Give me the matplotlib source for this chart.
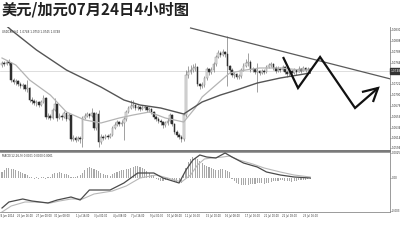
import matplotlib
matplotlib.use("Agg")
import matplotlib.pyplot as plt
import numpy as np

# ---------------- data: USD/CAD H4 ----------------
first_open = 1.0760
close = [1.0764, 1.0762, 1.0766, 1.0764, 1.0730, 1.0726, 1.0728, 1.0722, 1.0718, 1.0720,
         1.0712, 1.0714, 1.0690, 1.0688, 1.0684, 1.0686, 1.0680, 1.0686, 1.0694, 1.0656,
         1.0658, 1.0654, 1.0670, 1.0682, 1.0654, 1.0658, 1.0656, 1.0664, 1.0652, 1.0660,
         1.0612, 1.0614, 1.0610, 1.0614, 1.0612, 1.0654, 1.0658, 1.0662, 1.0658, 1.0664,
         1.0634, 1.0662, 1.0606, 1.0616, 1.0614, 1.0618, 1.0616, 1.0620, 1.0634, 1.0640,
         1.0646, 1.0642, 1.0644, 1.0652, 1.0666, 1.0674, 1.0678, 1.0680, 1.0674, 1.0676,
         1.0672, 1.0674, 1.0676, 1.0670, 1.0672, 1.0666, 1.0656, 1.0652, 1.0648, 1.0646,
         1.0640, 1.0644, 1.0648, 1.0660, 1.0642, 1.0626, 1.0620, 1.0616, 1.0612, 1.0660,
         1.0740, 1.0746, 1.0750, 1.0754, 1.0756, 1.0722, 1.0718, 1.0720, 1.0734, 1.0752,
         1.0746, 1.0750, 1.0762, 1.0776, 1.0784, 1.0780, 1.0786, 1.0782, 1.0758, 1.0750,
         1.0740, 1.0742, 1.0736, 1.0738, 1.0750, 1.0758, 1.0764, 1.0766, 1.0750, 1.0752,
         1.0746, 1.0748, 1.0744, 1.0748, 1.0746, 1.0756, 1.0760, 1.0762, 1.0754, 1.0748,
         1.0752, 1.0750, 1.0756, 1.0746, 1.0742, 1.0748, 1.0744, 1.0750, 1.0746, 1.0752,
         1.0748, 1.0754, 1.0750, 1.0752, 1.0748]
high = [1.0768, 1.0768, 1.0770, 1.0772, 1.0766, 1.0734, 1.0732, 1.0730, 1.0726, 1.0724,
        1.0722, 1.0730, 1.0716, 1.0696, 1.0692, 1.0690, 1.0688, 1.0690, 1.0700, 1.0696,
        1.0664, 1.0662, 1.0674, 1.0694, 1.0684, 1.0664, 1.0662, 1.0668, 1.0666, 1.0664,
        1.0662, 1.0620, 1.0618, 1.0618, 1.0618, 1.0658, 1.0664, 1.0666, 1.0664, 1.0674,
        1.0666, 1.0666, 1.0670, 1.0622, 1.0620, 1.0622, 1.0622, 1.0624, 1.0638, 1.0646,
        1.0650, 1.0648, 1.0650, 1.0656, 1.0670, 1.0678, 1.0690, 1.0690, 1.0682, 1.0680,
        1.0678, 1.0680, 1.0680, 1.0678, 1.0676, 1.0674, 1.0668, 1.0660, 1.0656, 1.0652,
        1.0648, 1.0648, 1.0654, 1.0664, 1.0662, 1.0644, 1.0630, 1.0624, 1.0620, 1.0664,
        1.0750, 1.0758, 1.0760, 1.0762, 1.0764, 1.0758, 1.0724, 1.0726, 1.0738, 1.0756,
        1.0754, 1.0756, 1.0766, 1.0780, 1.0790, 1.0788, 1.0792, 1.0788, 1.0818, 1.0760,
        1.0754, 1.0746, 1.0744, 1.0742, 1.0754, 1.0764, 1.0772, 1.0784, 1.0770, 1.0756,
        1.0754, 1.0764, 1.0750, 1.0752, 1.0752, 1.0760, 1.0764, 1.0766, 1.0764, 1.0758,
        1.0758, 1.0756, 1.0760, 1.0758, 1.0750, 1.0752, 1.0750, 1.0754, 1.0752, 1.0758,
        1.0754, 1.0758, 1.0756, 1.0756, 1.0754]
low = [1.0756, 1.0758, 1.0760, 1.0760, 1.0726, 1.0722, 1.0720, 1.0718, 1.0714, 1.0712,
       1.0708, 1.0706, 1.0686, 1.0682, 1.0680, 1.0678, 1.0676, 1.0678, 1.0684, 1.0652,
       1.0652, 1.0650, 1.0652, 1.0668, 1.0648, 1.0652, 1.0650, 1.0654, 1.0648, 1.0650,
       1.0608, 1.0608, 1.0606, 1.0608, 1.0604, 1.0596, 1.0652, 1.0656, 1.0654, 1.0656,
       1.0630, 1.0630, 1.0596, 1.0602, 1.0610, 1.0612, 1.0612, 1.0614, 1.0618, 1.0632,
       1.0638, 1.0638, 1.0638, 1.0610, 1.0648, 1.0664, 1.0672, 1.0674, 1.0670, 1.0670,
       1.0668, 1.0670, 1.0670, 1.0666, 1.0666, 1.0662, 1.0652, 1.0648, 1.0644, 1.0640,
       1.0634, 1.0636, 1.0640, 1.0644, 1.0638, 1.0622, 1.0616, 1.0612, 1.0606, 1.0608,
       1.0656, 1.0734, 1.0742, 1.0746, 1.0748, 1.0718, 1.0712, 1.0714, 1.0716, 1.0730,
       1.0740, 1.0742, 1.0746, 1.0758, 1.0774, 1.0776, 1.0778, 1.0776, 1.0718, 1.0744,
       1.0736, 1.0734, 1.0732, 1.0732, 1.0734, 1.0748, 1.0756, 1.0758, 1.0746, 1.0746,
       1.0742, 1.0706, 1.0740, 1.0742, 1.0742, 1.0744, 1.0754, 1.0756, 1.0750, 1.0744,
       1.0746, 1.0746, 1.0748, 1.0742, 1.0736, 1.0738, 1.0740, 1.0742, 1.0740, 1.0746,
       1.0744, 1.0748, 1.0746, 1.0748, 1.0744]

# moving averages (bar index, value)
ma_slow_bars = [0, 4, 15, 28, 43, 53, 60, 69, 79, 87, 95, 102, 111, 121, 134]
ma_slow_vals = [1.0846, 1.0830, 1.0790, 1.0750, 1.0716, 1.0690, 1.0680, 1.0674, 1.0662,
                1.0686, 1.0700, 1.0710, 1.0724, 1.0734, 1.0744]
ma_fast_bars = [0, 6, 12, 21, 28, 36, 43, 51, 57, 64, 71, 79, 84, 87, 93, 99, 106, 112,
                121, 130, 134]
ma_fast_vals = [1.0774, 1.0760, 1.0730, 1.0700, 1.0666, 1.0650, 1.0644, 1.0654, 1.0660,
                1.0666, 1.0654, 1.0646, 1.0674, 1.0696, 1.0720, 1.0744, 1.0750, 1.0754,
                1.0754, 1.0750, 1.0750]

# MACD histogram and its two lines
macd_hist = [0.0006, 0.0008, 0.0010, 0.0010, 0.0009, 0.0009, 0.0008, 0.0007, 0.0006, 0.0005,
             0.0004, 0.0003, 0.0001, 0.0001, -0.0001, 0.0001, -0.0001, 0.0001, 0.0001, -0.0001,
             0.0001, 0.0001, 0.0004, 0.0005, 0.0005, 0.0006, 0.0005, 0.0004, 0.0004, 0.0003,
             0.0001, 0.0001, 0.0001, 0.0002, 0.0003, 0.0005, 0.0008, 0.0010, 0.0011, 0.0010,
             0.0009, 0.0008, 0.0007, 0.0005, 0.0004, 0.0003, 0.0003, 0.0002, 0.0004, 0.0005,
             0.0006, 0.0007, 0.0008, 0.0008, 0.0009, 0.0009, 0.0010, 0.0011, 0.0012, 0.0012,
             0.0011, 0.0010, 0.0009, 0.0007, 0.0005, 0.0003, 0.0002, -0.0001, -0.0002, -0.0003,
             -0.0003, -0.0002, -0.0002, -0.0001, -0.0002, -0.0003, -0.0004, -0.0005, -0.0005, 0.0003,
             0.0010, 0.0016, 0.0019, 0.0021, 0.0020, 0.0019, 0.0017, 0.0015, 0.0013, 0.0012,
             0.0011, 0.0010, 0.0009, 0.0008, 0.0008, 0.0009, 0.0009, 0.0008, 0.0007, 0.0006,
             -0.0001, -0.0003, -0.0005, -0.0006, -0.0007, -0.0007, -0.0007, -0.0007, -0.0006, -0.0006,
             -0.0006, -0.0005, -0.0005, -0.0005, -0.0006, -0.0005, -0.0005, -0.0004, -0.0003, -0.0003,
             -0.0003, -0.0002, -0.0002, -0.0003, -0.0003, -0.0003, -0.0004, -0.0003, -0.0003, -0.0002,
             -0.0002, -0.0002, -0.0002, -0.0001, -0.0001]
macd_main_bars = [0, 3, 9, 13, 20, 24, 30, 34, 38, 47, 53, 59, 66, 70, 77, 80, 83, 86, 89,
                  93, 97, 100, 105, 111, 115, 121, 127, 134]
macd_main_vals = [-0.0030, -0.0024, -0.0021, -0.0023, -0.0025, -0.0022, -0.0019, -0.0022,
                  -0.0012, -0.0012, -0.0005, 0.0005, 0.0005, 0.0000, -0.0005, 0.0008, 0.0018,
                  0.0023, 0.0021, 0.0020, 0.0025, 0.0021, 0.0015, 0.0011, 0.0006, 0.0003,
                  0.0001, 0.0000]
macd_signal_bars = [0, 4, 10, 14, 21, 25, 30, 35, 40, 48, 54, 60, 67, 72, 78, 82, 85, 88,
                    91, 96, 99, 103, 109, 114, 121, 127, 134]
macd_signal_vals = [-0.0034, -0.0028, -0.0024, -0.0024, -0.0025, -0.0023, -0.0021, -0.0021,
                    -0.0016, -0.0013, -0.0008, 0.0000, 0.0003, 0.0000, -0.0004, 0.0003, 0.0013,
                    0.0019, 0.0020, 0.0021, 0.0022, 0.0018, 0.0014, 0.0010, 0.0006, 0.0003,
                    0.0001]

# descending trend line and the projected zig-zag path (bar, price)
trend_bars = [82, 169]
trend_vals = [1.0834, 1.0732]
path_bars = [122.2, 128.7, 138.3, 153.5, 163.5]
path_vals = [1.0776, 1.0714, 1.0776, 1.0674, 1.0714]
head_bars = [156.5, 163.5, 161.3]
head_vals = [1.0706, 1.0714, 1.0686]

price_labels = ["1.0830", "1.0808", "1.0786", "1.0764", "1.0722", "1.0700",
                "1.0678", "1.0656", "1.0634", "1.0614", "1.0594"]
price_label_vals = [1.0830, 1.0808, 1.0786, 1.0764, 1.0722, 1.0700,
                    1.0678, 1.0656, 1.0634, 1.0614, 1.0594]
macd_labels = ["0.0025", "0.00", "-0.003"]
macd_label_vals = [0.0025, 0.0, -0.0033]
time_tick_bars = [2, 10, 18, 26, 35, 43, 51, 59, 67, 75, 83, 92, 100, 109, 117, 125, 134]
time_labels = ["24 Jun 2014", "25 Jun 16:00", "27 Jun 00:00", "30 Jun 08:00", "1 Jul 16:00",
               "3 Jul 00:00", "4 Jul 08:00", "7 Jul 16:00", "9 Jul 00:00", "10 Jul 08:00",
               "11 Jul 16:00", "15 Jul 00:00", "16 Jul 08:00", "17 Jul 16:00", "21 Jul 00:00",
               "22 Jul 08:00", "23 Jul 16:00"]
last_price = 1.0748
title = "美元/加元07月24日4小时图"

# ---------------- drawing ----------------
W, H = 400, 247
fig = plt.figure(figsize=(W / 100, H / 100), dpi=100)
fig.patch.set_facecolor("white")

def px_rect(x0, y0, x1, y1):
    return [x0 / W, 1 - y1 / H, (x1 - x0) / W, (y1 - y0) / H]

ax = fig.add_axes(px_rect(0, 27, 390, 151))
ax2 = fig.add_axes(px_rect(0, 152, 390, 212), sharex=ax)

xlim = (-0.87, 168.7)
for a in (ax, ax2):
    a.set_facecolor("white")
    a.set_xticks([])
    a.set_yticks([])
    for s in a.spines.values():
        s.set_color("#8a8a8a")
        s.set_linewidth(0.6)
    a.spines["left"].set_visible(False)
    a.spines["top"].set_visible(False)
ax.spines["bottom"].set_linewidth(1.4)
ax.spines["bottom"].set_color("#777777")
ax2.spines["top"].set_visible(True)
ax2.spines["top"].set_linewidth(0.6)
ax.set_xlim(*xlim)
ax.set_ylim(1.0588, 1.0836)
ax2.set_ylim(-0.0034, 0.0026)

n = len(close)
x = np.arange(n)
opens = np.array([first_open] + close[:-1])
closes = np.array(close)
highs = np.array(high)
lows = np.array(low)

# bid line
ax.axhline(last_price, color="#d0d0d0", lw=0.5, zorder=1)

# candles
ax.vlines(x, lows, highs, color="#7a7a7a", lw=0.5, zorder=2)
up = closes >= opens
body = np.maximum(np.abs(closes - opens), 0.00006)
bottom = np.minimum(opens, closes)
ax.bar(x[up], body[up], bottom=bottom[up], width=0.72, color="#e4e4e4",
       edgecolor="#8a8a8a", linewidth=0.35, zorder=3)
ax.bar(x[~up], body[~up], bottom=bottom[~up], width=0.72, color="#2e2e2e",
       edgecolor="#2e2e2e", linewidth=0.35, zorder=3)

# moving averages
ax.plot(ma_fast_bars, ma_fast_vals, color="#b4b4b4", lw=0.9, zorder=4)
ax.plot(ma_slow_bars, ma_slow_vals, color="#555555", lw=1.0, zorder=4)

# trend line and projected path
ax.plot(trend_bars, trend_vals, color="#5a5a5a", lw=0.9, zorder=5)
ax.plot(path_bars, path_vals, color="#111111", lw=1.6, zorder=6,
        solid_joinstyle="miter", solid_capstyle="butt")
ax.plot(head_bars, head_vals, color="#111111", lw=1.6, zorder=6,
        solid_joinstyle="miter", solid_capstyle="butt")

# header text
small = dict(fontsize=2.0, color="#333333", family="DejaVu Sans")
ax.text(0.005, 0.975, "USDCAD,H4  1.0748 1.0750 1.0745 1.0748", transform=ax.transAxes,
        va="top", ha="left", **small)

# right price scale
yt = ax.get_yaxis_transform()
for v, s in zip(price_label_vals, price_labels):
    ax.text(1.004, v, s, transform=yt, va="center", ha="left", clip_on=False, **small)
    ax.plot([1.0, 1.003], [v, v], transform=yt, color="#777777", lw=0.4, clip_on=False)
ax.text(1.002, last_price, "1.0748", transform=yt, va="center", ha="left",
        fontsize=2.1, color="white", family="DejaVu Sans", clip_on=False,
        bbox=dict(boxstyle="square,pad=0.3", fc="#333333", ec="#333333"))

# MACD panel
ax2.bar(x, macd_hist, width=0.45, color="#a8a8a8", zorder=2)
ax2.plot(macd_signal_bars, macd_signal_vals, color="#b8b8b8", lw=0.8, zorder=3)
ax2.plot(macd_main_bars, macd_main_vals, color="#4a4a4a", lw=0.9, zorder=4)
ax2.text(0.005, 0.97, "MACD(12,26,9) 0.0001 0.0000 0.0001", transform=ax2.transAxes,
         va="top", ha="left", **small)
yt2 = ax2.get_yaxis_transform()
for v, s in zip(macd_label_vals, macd_labels):
    ax2.text(1.004, v, s, transform=yt2, va="center", ha="left", clip_on=False, **small)
    ax2.plot([1.0, 1.003], [v, v], transform=yt2, color="#777777", lw=0.4, clip_on=False)

# time scale
xt = ax2.get_xaxis_transform()
for b, s in zip(time_tick_bars, time_labels):
    ax2.text(b, -0.04, s, transform=xt, va="top", ha="center", clip_on=False,
             fontsize=1.8, color="#333333", family="DejaVu Sans")

# title
fig.text(0.005, 1 - 9.5 / H, title, fontsize=11, fontweight="bold", color="#222222",
         family=["Noto Sans CJK SC", "DejaVu Sans"], va="center", ha="left")

fig.savefig("out.png", dpi=100, facecolor="white")
